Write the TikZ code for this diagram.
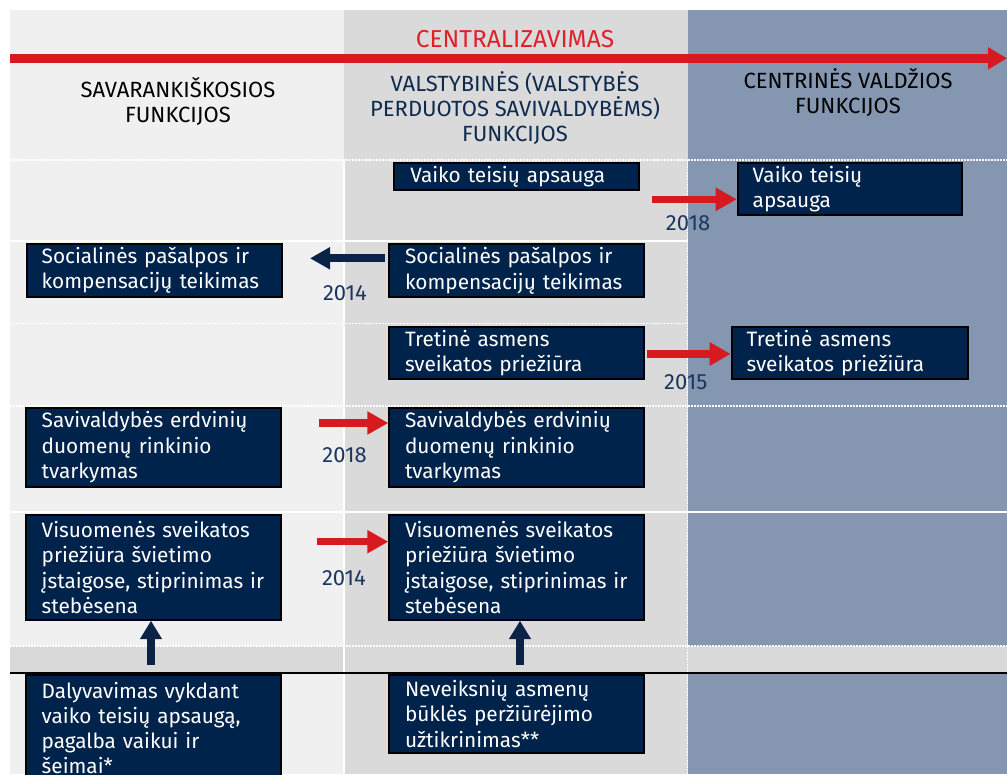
\documentclass[tikz,border=0pt]{standalone}
\usepackage{fontspec}
\setmainfont{Fira Sans}
\usetikzlibrary{arrows.meta}
\definecolor{navy}{HTML}{00234B}
\definecolor{arrnavy}{HTML}{0B2347}
\definecolor{redA}{HTML}{D71920}
\definecolor{redT}{HTML}{E0202A}
\definecolor{colA}{HTML}{F0F0F0}
\definecolor{colB}{HTML}{DADADA}
\definecolor{colC}{HTML}{8496B0}
\definecolor{bandc}{HTML}{D9D9D9}
\definecolor{yearc}{HTML}{1B3760}
\definecolor{hnavy}{HTML}{0E2A4F}
\begin{document}
\begin{tikzpicture}[x=1pt,y=-1pt,
  fbox/.style={draw=black, line width=2pt, fill=navy, text=white, anchor=north west,
    align=left, inner ysep=0pt, font=\fontsize{20.8}{25.3}\selectfont},
  yearlbl/.style={text=yearc, font=\fontsize{22}{24}\selectfont, inner sep=0pt},
  hdr/.style={align=center, inner sep=0pt, font=\fontsize{22}{25}\selectfont},
  sepsolid/.style={draw=white, line width=1.2pt},
  sepdot/.style={draw=white, line width=1.2pt, dash pattern=on 2pt off 1pt},
  redarrow/.style={draw=redA, line width=7.5pt, -{Triangle[length=21pt,width=22pt]}},
  navyarrow/.style={draw=arrnavy, line width=7.8pt, -{Triangle[length=20pt,width=21pt]}}
]
\clip (0,0) rectangle (1007,774);
\fill[white] (0,0) rectangle (1007,774);
% column backgrounds
\fill[colA] (10,10) rectangle (344,774);
\fill[colB] (344,10) rectangle (687.5,774);
\fill[colC] (687.5,10) rectangle (1007,774);
\fill[bandc] (10,646) rectangle (1007,673);
% separators
\draw[sepdot] (10,160) -- (1007,160);
\draw[sepsolid] (10,241) -- (687.5,241);
\draw[sepdot] (10,323.5) -- (687.5,323.5);
\draw[sepdot] (10,406) -- (1007,406);
\draw[sepsolid] (10,512) -- (1007,512);
\draw[sepdot] (10,646) -- (1007,646);
\draw[sepsolid] (344,160) -- (344,774);
\draw[sepdot] (687.5,160) -- (687.5,774);
\draw[black, line width=2.5pt] (10,673) -- (1007,673);
% headers
\node[hdr, text=redT, font=\fontsize{24.5}{26}\selectfont] (cent) at (515,39.5) {CENTRALIZAVIMAS};
\coordinate (bigs) at (10,58.3);
\coordinate (bige) at (1007,58.3);
\draw[draw=redA, line width=8.7pt, -{Triangle[length=19pt,width=21pt]}] (bigs) -- (bige);
\node[hdr, text=black] (h1) at (178,102) {SAVARANKIŠKOSIOS\\FUNKCIJOS};
\node[hdr, text=hnavy] (h2) at (515,108.5) {VALSTYBINĖS (VALSTYBĖS\\PERDUOTOS SAVIVALDYBĖMS)\\FUNKCIJOS};
\node[hdr, text=black] (h3) at (848,92.5) {CENTRINĖS VALDŽIOS\\FUNKCIJOS};
% boxes
\node[fbox, inner xsep=16pt, text width=213pt, minimum height=27.6pt] (vm) at (393.3,161.7) {Vaiko teisių apsauga};
\node[fbox, inner xsep=15pt, text width=194.6pt, minimum height=52.6pt] (vr) at (736.7,161.7) {Vaiko teisių\\apsauga};
\node[fbox, inner xsep=15pt, text width=225pt, minimum height=52.4pt] (sl) at (25.7,243.3) {Socialinės pašalpos ir\\kompensacijų teikimas};
\node[fbox, inner xsep=15.7pt, text width=223.6pt, minimum height=52.7pt] (sm) at (388.3,243.3) {Socialinės pašalpos ir\\kompensacijų teikimas};
\node[fbox, inner xsep=15.7pt, text width=223.6pt, minimum height=52.6pt] (tm) at (388.3,325.7) {Tretinė asmens\\sveikatos priežiūra};
\node[fbox, inner xsep=15pt, text width=206.6pt, minimum height=52.6pt] (tr) at (730.7,325.7) {Tretinė asmens\\sveikatos priežiūra};
\node[fbox, inner xsep=15.3pt, text width=224pt, minimum height=79pt] (dl) at (25.4,406.7) {Savivaldybės erdvinių\\duomenų rinkinio\\tvarkymas};
\node[fbox, inner xsep=15.7pt, text width=223.6pt, minimum height=79pt] (dm) at (388.3,406.7) {Savivaldybės erdvinių\\duomenų rinkinio\\tvarkymas};
\node[fbox, inner xsep=15.3pt, text width=224pt, minimum height=104.4pt] (vl) at (25.4,514.3) {Visuomenės sveikatos\\priežiūra švietimo\\įstaigose, stiprinimas ir\\stebėsena};
\node[fbox, inner xsep=15.7pt, text width=223.6pt, minimum height=104.4pt] (vmid) at (388.3,514.3) {Visuomenės sveikatos\\priežiūra švietimo\\įstaigose, stiprinimas ir\\stebėsena};
\node[fbox, inner xsep=15.3pt, text width=224pt, minimum height=106pt] (pl) at (25.4,674) {Dalyvavimas vykdant\\vaiko teisių apsaugą,\\pagalba vaikui ir\\šeimai*};
\node[fbox, inner xsep=15.7pt, text width=223.6pt, minimum height=78pt] (nm) at (388.3,674) {Neveiksnių asmenų\\būklės peržiūrėjimo\\užtikrinimas**};
% arrows and years
\coordinate (a1s) at (651.7,199.3);
\draw[redarrow] (a1s) -- (a1s -| vr.west);
\node[yearlbl] (y1) at (688,222.7) {2018};
\coordinate (a2s) at (385,258.3);
\coordinate (a2e) at (310,258.3);
\draw[navyarrow] (a2s) -- (a2e);
\node[yearlbl] (y2) at (345,292.7) {2014};
\coordinate (a3s) at (646.7,354);
\draw[redarrow] (a3s) -- (a3s -| tr.west);
\node[yearlbl] (y3) at (685.7,382.3) {2015};
\coordinate (a4s) at (319,423);
\draw[redarrow] (a4s) -- (a4s -| dm.west);
\node[yearlbl] (y4) at (344.6,455) {2018};
\coordinate (a5s) at (317,541.7);
\draw[redarrow] (a5s) -- (a5s -| vmid.west);
\node[yearlbl] (y5) at (344,578) {2014};
\coordinate (u1) at (151,665);
\draw[navyarrow, line width=7.6pt, -{Triangle[length=18.5pt,width=21pt]}] (u1) -- (u1 |- vl.south);
\coordinate (u2) at (520,665);
\draw[navyarrow, line width=7.6pt, -{Triangle[length=18.5pt,width=21pt]}] (u2) -- (u2 |- vmid.south);
\end{tikzpicture}
\end{document}
